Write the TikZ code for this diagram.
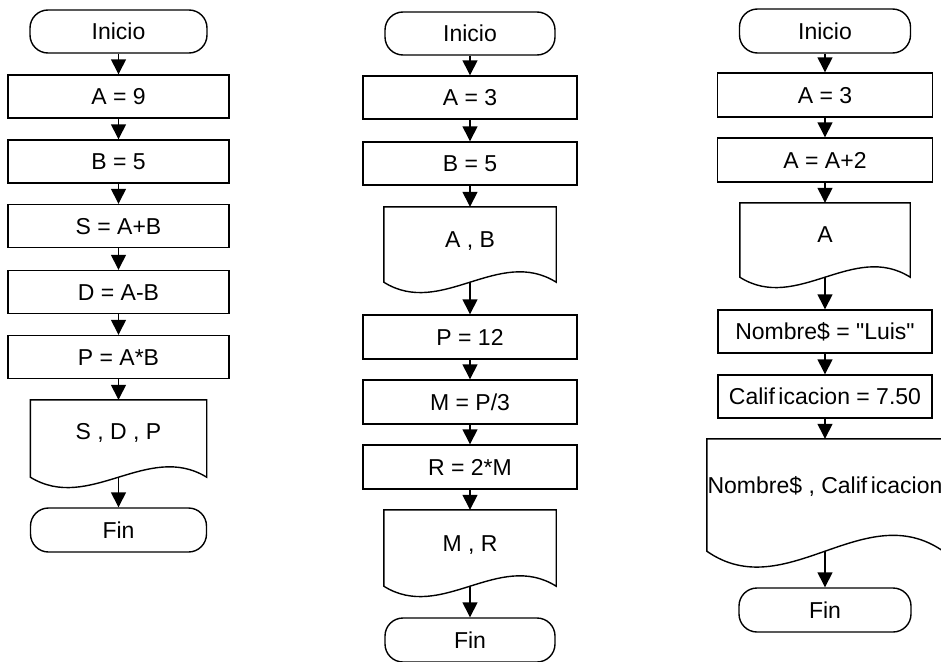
\documentclass[tikz,border=0pt]{standalone}
\usepackage{fontspec}
\setmainfont{Liberation Sans}[Ligatures=TeXOff]
\usetikzlibrary{arrows.meta,calc}
\tikzset{
  txt/.style={font=\fontsize{23}{27}\selectfont, text height=16.5pt, text depth=0pt, inner sep=0pt},
  base/.style={txt, draw, line width=1.4pt},
  term/.style={base, rectangle, rounded corners=18pt, minimum width=#1, minimum height=43pt},
  term/.default=176pt,
  procbox/.style={base, rectangle, minimum width=#1, minimum height=43pt},
  procbox/.default=214pt,
  docnode/.style={txt, rectangle},
  docline/.style={line width=1.4pt, line join=miter},
  flow/.style={-{Triangle[width=15pt,length=15pt]}, line width=1.4pt}
}
\newcommand{\docshape}[2]{%
  \draw[docline] (#1.south east) -- (#1.north east) -- (#1.north west) -- (#1.south west)
    .. controls ($(#1.south west)!0.3333!(#1.south east)+(0,#2)$) and ($(#1.south west)!0.6667!(#1.south east)+(0,-#2)$) .. (#1.south east) -- cycle;}
\begin{document}
\begin{tikzpicture}[x=1pt,y=-1pt]
\useasboundingbox (0,0) rectangle (941,661);
\clip (0,0) rectangle (941,661);
% ---------- left column ----------
\node[term=177pt] (ini1) at (118.5,31.5) {Inicio};
\node[procbox=221pt] (a1) at (118.5,96.5) {A = 9};
\node[procbox=221pt] (b1) at (118.5,161.5) {B = 5};
\node[procbox=221pt] (s1) at (118.5,226) {S = A+B};
\node[procbox=221pt] (d1) at (118.5,292) {D = A-B};
\node[procbox=221pt] (p1) at (118.5,357) {P = A*B};
\node[docnode, minimum width=176pt, minimum height=77pt, text depth=14pt] (doc1) at (118.5,438.5) {S , D , P};
\node[term=176pt, minimum height=44pt] (fin1) at (118.5,530) {Fin};
\docshape{doc1}{36}
\draw[flow] (ini1) -- (a1);
\draw[flow] (a1) -- (b1);
\draw[flow] (b1) -- (s1);
\draw[flow] (s1) -- (d1);
\draw[flow] (d1) -- (p1);
\draw[flow] (p1) -- (doc1);
\draw[flow] (doc1) -- (fin1);
% ---------- middle column ----------
\node[term=170pt] (ini2) at (470,33.5) {Inicio};
\node[procbox=214pt] (a2) at (470,97.5) {A = 3};
\node[procbox=214pt] (b2) at (470,163.5) {B = 5};
\node[docnode, minimum width=172pt, minimum height=75pt, text depth=10pt] (doc2) at (470,244.5) {A , B};
\node[procbox=214pt, minimum height=44pt] (p2) at (470,337) {P = 12};
\node[procbox=214pt, minimum height=44pt] (m2) at (470,402) {M = P/3};
\node[procbox=214pt, minimum height=44pt] (r2) at (470,467) {R = 2*M};
\node[docnode, minimum width=172pt, minimum height=76pt, text depth=10pt] (doc3) at (470,548) {M , R};
\node[term=170pt, minimum height=44pt] (fin2) at (470,640) {Fin};
\docshape{doc2}{36}
\docshape{doc3}{36}
\draw[flow] (ini2) -- (a2);
\draw[flow] (a2) -- (b2);
\draw[flow] (b2) -- (doc2);
\draw[flow] (doc2) -- (p2);
\draw[flow] (p2) -- (m2);
\draw[flow] (m2) -- (r2);
\draw[flow] (r2) -- (doc3);
\draw[flow] (doc3) -- (fin2);
% ---------- right column ----------
\node[term=171pt, minimum height=44pt] (ini3) at (825,31) {Inicio};
\node[procbox=215pt, minimum height=44pt] (a3) at (825,95) {A = 3};
\node[procbox=215pt, minimum height=44pt] (a3b) at (825,160) {A = A+2};
\node[docnode, minimum width=170pt, minimum height=74pt, text depth=12pt] (doc4) at (825,240) {A};
\node[procbox=214pt] (n3) at (825,331.5) {Nombre\$ = "Luis"};
\node[procbox=214pt] (c3) at (825,396.5) {Calif\kern3.5pt icacion = 7.50};
\node[docnode, minimum width=236pt, minimum height=112pt, text depth=20pt] (doc5) at (825,495) {Nombre\$ , Calif\kern3.5pt icacion};
\node[term=172pt, minimum height=44pt] (fin3) at (825,610) {Fin};
\docshape{doc4}{36}
\docshape{doc5}{55}
\draw[flow] (ini3) -- (a3);
\draw[flow] (a3) -- (a3b);
\draw[flow] (a3b) -- (doc4);
\draw[flow] (doc4) -- (n3);
\draw[flow] (n3) -- (c3);
\draw[flow] (c3) -- (doc5);
\draw[flow] (doc5) -- (fin3);
\end{tikzpicture}
\end{document}
